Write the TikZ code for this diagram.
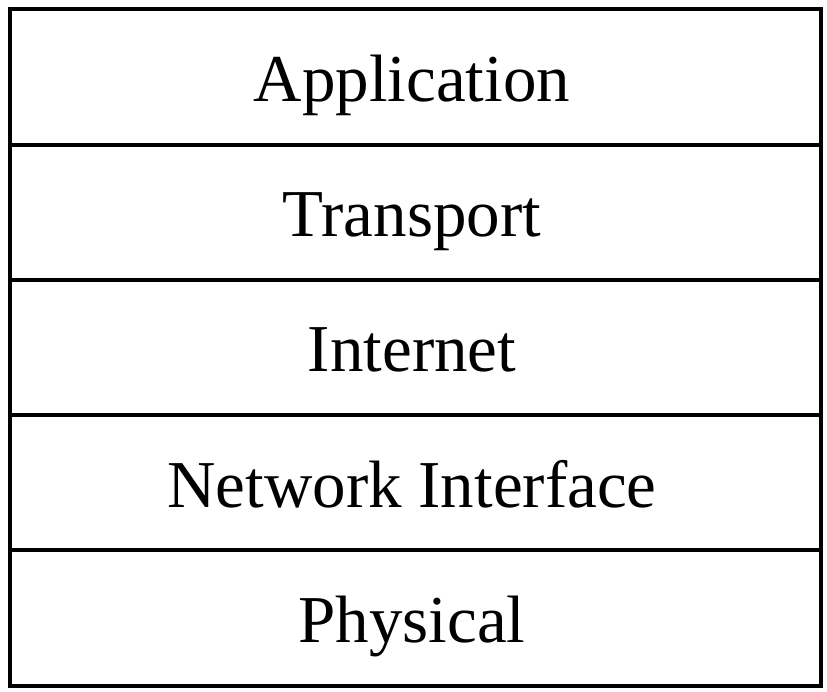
\documentclass[tikz,border=0pt]{standalone}
\usepackage{fontspec}
\setmainfont{Liberation Serif}
\begin{document}
\begin{tikzpicture}[x=1pt,y=-1pt,
  layer/.style={draw=black,line width=4pt,minimum width=811pt,minimum height=135.2pt,inner sep=0pt,anchor=north west},
  lbl/.style={anchor=base,font=\fontsize{67}{80}\selectfont,inner sep=0pt}]
\useasboundingbox (0,0) rectangle (827,692);
\node[layer] (app) at (7.5,7.5) {};
\node[layer] (tra) at (7.5,142.7) {};
\node[layer] (int) at (7.5,277.9) {};
\node[layer] (net) at (7.5,413.1) {};
\node[layer] (phy) at (7.5,548.3) {};
\node[lbl] (tapp) at (412,102) {Application};
\node[lbl] (ttra) at (412,237) {Transport};
\node[lbl] (tint) at (412,372) {Internet};
\node[lbl] (tnet) at (412,507) {Network Interface};
\node[lbl] (tphy) at (412,642) {Physical};
\end{tikzpicture}
\end{document}
